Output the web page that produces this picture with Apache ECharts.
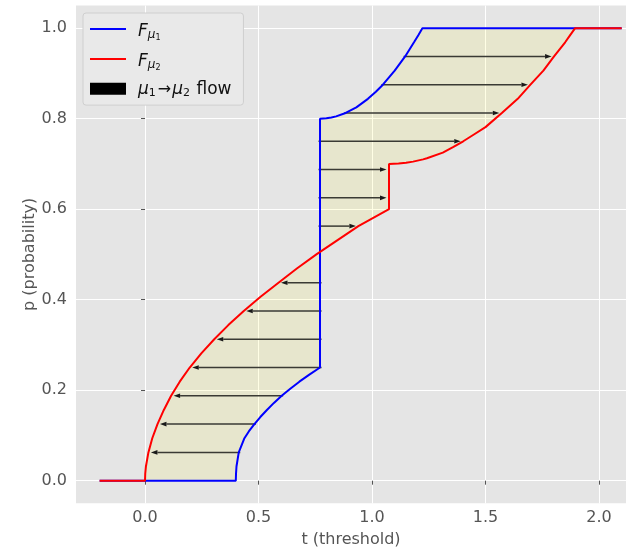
<!DOCTYPE html>
<html><head><meta charset="utf-8">
<script src="https://cdn.jsdelivr.net/npm/echarts@6/dist/echarts.min.js"></script>
<style>html,body{margin:0;padding:0;background:#fff}#c{width:626px;height:549px}</style>
</head><body><div id="c"></div>
<script>
// ---- data ----
// F_mu1 quantiles: probability -> threshold
const blueP = [0, 0.015625, 0.03125, 0.0625, 0.09375, 0.109375, 0.125, 0.140625, 0.15625, 0.171875, 0.1875, 0.203125, 0.21875, 0.234375, 0.25, 0.8, 0.80078, 0.8025, 0.805, 0.8125, 0.825, 0.84375, 0.859375, 0.875, 0.90625, 0.9375, 0.96875, 0.984375, 1.0];
const blueT = [0.400, 0.401, 0.403, 0.413, 0.438, 0.458, 0.482, 0.508, 0.537, 0.568, 0.602, 0.640, 0.680, 0.724, 0.771, 0.771, 0.799, 0.821, 0.842, 0.884, 0.931, 0.982, 1.017, 1.048, 1.100, 1.146, 1.185, 1.204, 1.222];
// F_mu2 quantiles
const redP = [0, 0.015625, 0.03125, 0.0625, 0.09375, 0.125, 0.15625, 0.1875, 0.21875, 0.25, 0.28125, 0.3125, 0.34375, 0.375, 0.40625, 0.4375, 0.46875, 0.5, 0.5625, 0.6, 0.7, 0.70078, 0.7025, 0.705, 0.71, 0.7125, 0.725, 0.7375, 0.75, 0.765, 0.78125, 0.8125, 0.84375, 0.875, 0.90625, 0.9375, 0.96875, 0.984375, 1.0];
const redT = [0, 0.001, 0.004, 0.015, 0.032, 0.055, 0.083, 0.115, 0.153, 0.197, 0.248, 0.305, 0.367, 0.435, 0.509, 0.588, 0.669, 0.755, 0.940, 1.075, 1.075, 1.117, 1.150, 1.181, 1.225, 1.242, 1.312, 1.359, 1.402, 1.449, 1.500, 1.572, 1.642, 1.698, 1.755, 1.802, 1.851, 1.873, 1.895];
// plotted range of t
const tStart = -0.2;
const tEnd = 2.1;
// transport arrows (mu1 -> mu2) at probability levels
const flowP = [0.0625, 0.125, 0.1875, 0.25, 0.3125, 0.375, 0.4375, 0.5625, 0.625, 0.6875, 0.75, 0.8125, 0.875, 0.9375];
const flowFrom = [0.413, 0.482, 0.602, 0.771, 0.771, 0.771, 0.771, 0.771, 0.771, 0.771, 0.771, 0.884, 1.048, 1.146];
const flowTo = [0.015, 0.055, 0.115, 0.197, 0.305, 0.435, 0.588, 0.940, 1.075, 1.075, 1.402, 1.572, 1.698, 1.802];
// tick labels
const xTicks = [0, 0.5, 1.0, 1.5, 2.0];
const yTicks = [0, 0.2, 0.4, 0.6, 0.8, 1.0];

// ---- chart ----
const FONT = 'DejaVu Sans';
const blueData = [[tStart, 0]].concat(blueT.map((t, i) => [t, blueP[i]]), [[tEnd, 1]]);
const redData = [[tStart, 0]].concat(redT.map((t, i) => [t, redP[i]]), [[tEnd, 1]]);
const flowData = flowP.map((p, i) => [flowFrom[i], flowTo[i], p]);

const legendLabels = {
  F1: '{F|F}{m|μ}{n|1}',
  F2: '{F|F}{m|μ}{n|2}',
  flow: '{M|μ}{s|1}{A|→}{B|μ}{s|2}{T| flow}'
};
// line-shaped legend icon (2px bar across a 36x12 box)
const LINE_ICON = 'path://M0,0h0.01v0.01h-0.01z M0,5h36v2h-36z M35.99,11.99h0.01v0.01h-0.01z';

const chart = echarts.init(document.getElementById('c'), null, {renderer: 'canvas'});
const axisText = {color: '#555', fontSize: 16, fontFamily: FONT};
const tc = '#111';
chart.setOption({
  animation: false,
  backgroundColor: '#ffffff',
  grid: {left: 76, right: 0, top: 5.5, bottom: 45.7, show: true, backgroundColor: '#E5E5E5', borderWidth: 0, containLabel: false, outerBoundsMode: 'none'},
  xAxis: {
    type: 'value', min: -0.304, max: 2.119,
    axisLine: {show: false},
    axisTick: {show: true, length: 4, lineStyle: {color: '#555'}, customValues: xTicks},
    axisLabel: Object.assign({customValues: xTicks, formatter: v => v.toFixed(1), margin: 7}, axisText),
    splitLine: {show: true, lineStyle: {color: '#ffffff', width: 1}},
    name: 't (threshold)', nameLocation: 'middle', nameGap: 29, nameMoveOverlap: false,
    nameTextStyle: axisText
  },
  yAxis: {
    type: 'value', min: -0.05, max: 1.05,
    axisLine: {show: false},
    axisTick: {show: true, length: 4, lineStyle: {color: '#555'}, customValues: yTicks},
    axisLabel: Object.assign({customValues: yTicks, formatter: v => v.toFixed(1), margin: 9}, axisText),
    splitLine: {show: true, lineStyle: {color: '#ffffff', width: 1}},
    name: 'p (probability)', nameLocation: 'middle', nameGap: 38, nameRotate: 90, nameMoveOverlap: false,
    nameTextStyle: axisText
  },
  legend: {
    orient: 'vertical', left: 83, top: 13,
    padding: [1, 12, 6, 7], itemGap: 2, itemWidth: 36, itemHeight: 12,
    backgroundColor: '#E9E9E9', borderColor: '#CFCFCF', borderWidth: 1, borderRadius: 3,
    selectedMode: false,
    data: [{name: 'F1', icon: LINE_ICON}, {name: 'F2', icon: LINE_ICON}, {name: 'flow', icon: 'rect'}],
    formatter: name => legendLabels[name],
    textStyle: {
      fontFamily: FONT, fontSize: 16, color: tc,
      rich: {
        F: {fontFamily: FONT, fontStyle: 'italic', fontSize: 17, lineHeight: 30, padding: [9.5, 0, 0, 7], verticalAlign: 'top', color: tc},
        m: {fontFamily: FONT, fontStyle: 'italic', fontSize: 12, lineHeight: 12, padding: [15.3, 0, 0, 0], verticalAlign: 'top', color: tc},
        n: {fontFamily: FONT, fontSize: 8, lineHeight: 8, padding: [19.9, 0, 0, 0], verticalAlign: 'top', color: tc},
        M: {fontFamily: FONT, fontStyle: 'italic', fontSize: 17, lineHeight: 30, padding: [7.5, 0, 0, 7], verticalAlign: 'top', color: tc},
        B: {fontFamily: FONT, fontStyle: 'italic', fontSize: 17, lineHeight: 30, padding: [7.5, 0, 0, 0], verticalAlign: 'top', color: tc},
        s: {fontFamily: FONT, fontSize: 11, lineHeight: 11, padding: [14.3, 1, 0, 0], verticalAlign: 'top', color: tc},
        A: {fontFamily: FONT, fontSize: 16, lineHeight: 30, padding: [8, 1, 0, 1], verticalAlign: 'top', color: tc},
        T: {fontFamily: FONT, fontSize: 17, lineHeight: 30, padding: [7.5, 0, 0, 0], verticalAlign: 'top', color: tc}
      }
    }
  },
  series: [
    {
      type: 'custom', name: 'band', silent: true, z: 1,
      data: [[0, 0]],
      renderItem: (params, api) => {
        const pts = [];
        for (let i = 0; i < blueT.length; i++) pts.push(api.coord([blueT[i], blueP[i]]));
        for (let i = redT.length - 1; i >= 0; i--) pts.push(api.coord([redT[i], redP[i]]));
        return {type: 'polygon', shape: {points: pts}, style: {fill: 'rgba(255,245,0,0.1)'}};
      }
    },
    {
      type: 'custom', name: 'flow', silent: true, z: 2,
      itemStyle: {color: '#000'},
      encode: {x: [0, 1], y: 2},
      data: flowData,
      renderItem: (params, api) => {
        const p = api.value(2);
        const a = api.coord([api.value(0), p]);
        const b = api.coord([api.value(1), p]);
        const dir = b[0] > a[0] ? 1 : -1;
        const tip = b[0] - dir * 2.5;
        const base = tip - dir * 6.5;
        const y = a[1];
        return {type: 'group', children: [
          {type: 'line', shape: {x1: a[0] - dir * 1.5, y1: y, x2: base, y2: y}, style: {stroke: '#3a3a34', lineWidth: 1.5}},
          {type: 'polygon', shape: {points: [[tip, y], [base, y - 2.3], [base, y + 2.3]]}, style: {fill: '#1a1a1a'}}
        ]};
      }
    },
    {
      type: 'line', name: 'F1', data: blueData, symbol: 'none', z: 3,
      lineStyle: {color: '#0000FF', width: 2}, itemStyle: {color: '#0000FF'}
    },
    {
      type: 'line', name: 'F2', data: redData, symbol: 'none', z: 4,
      lineStyle: {color: '#FF0000', width: 2}, itemStyle: {color: '#FF0000'}
    }
  ]
});
</script>
</body></html>
